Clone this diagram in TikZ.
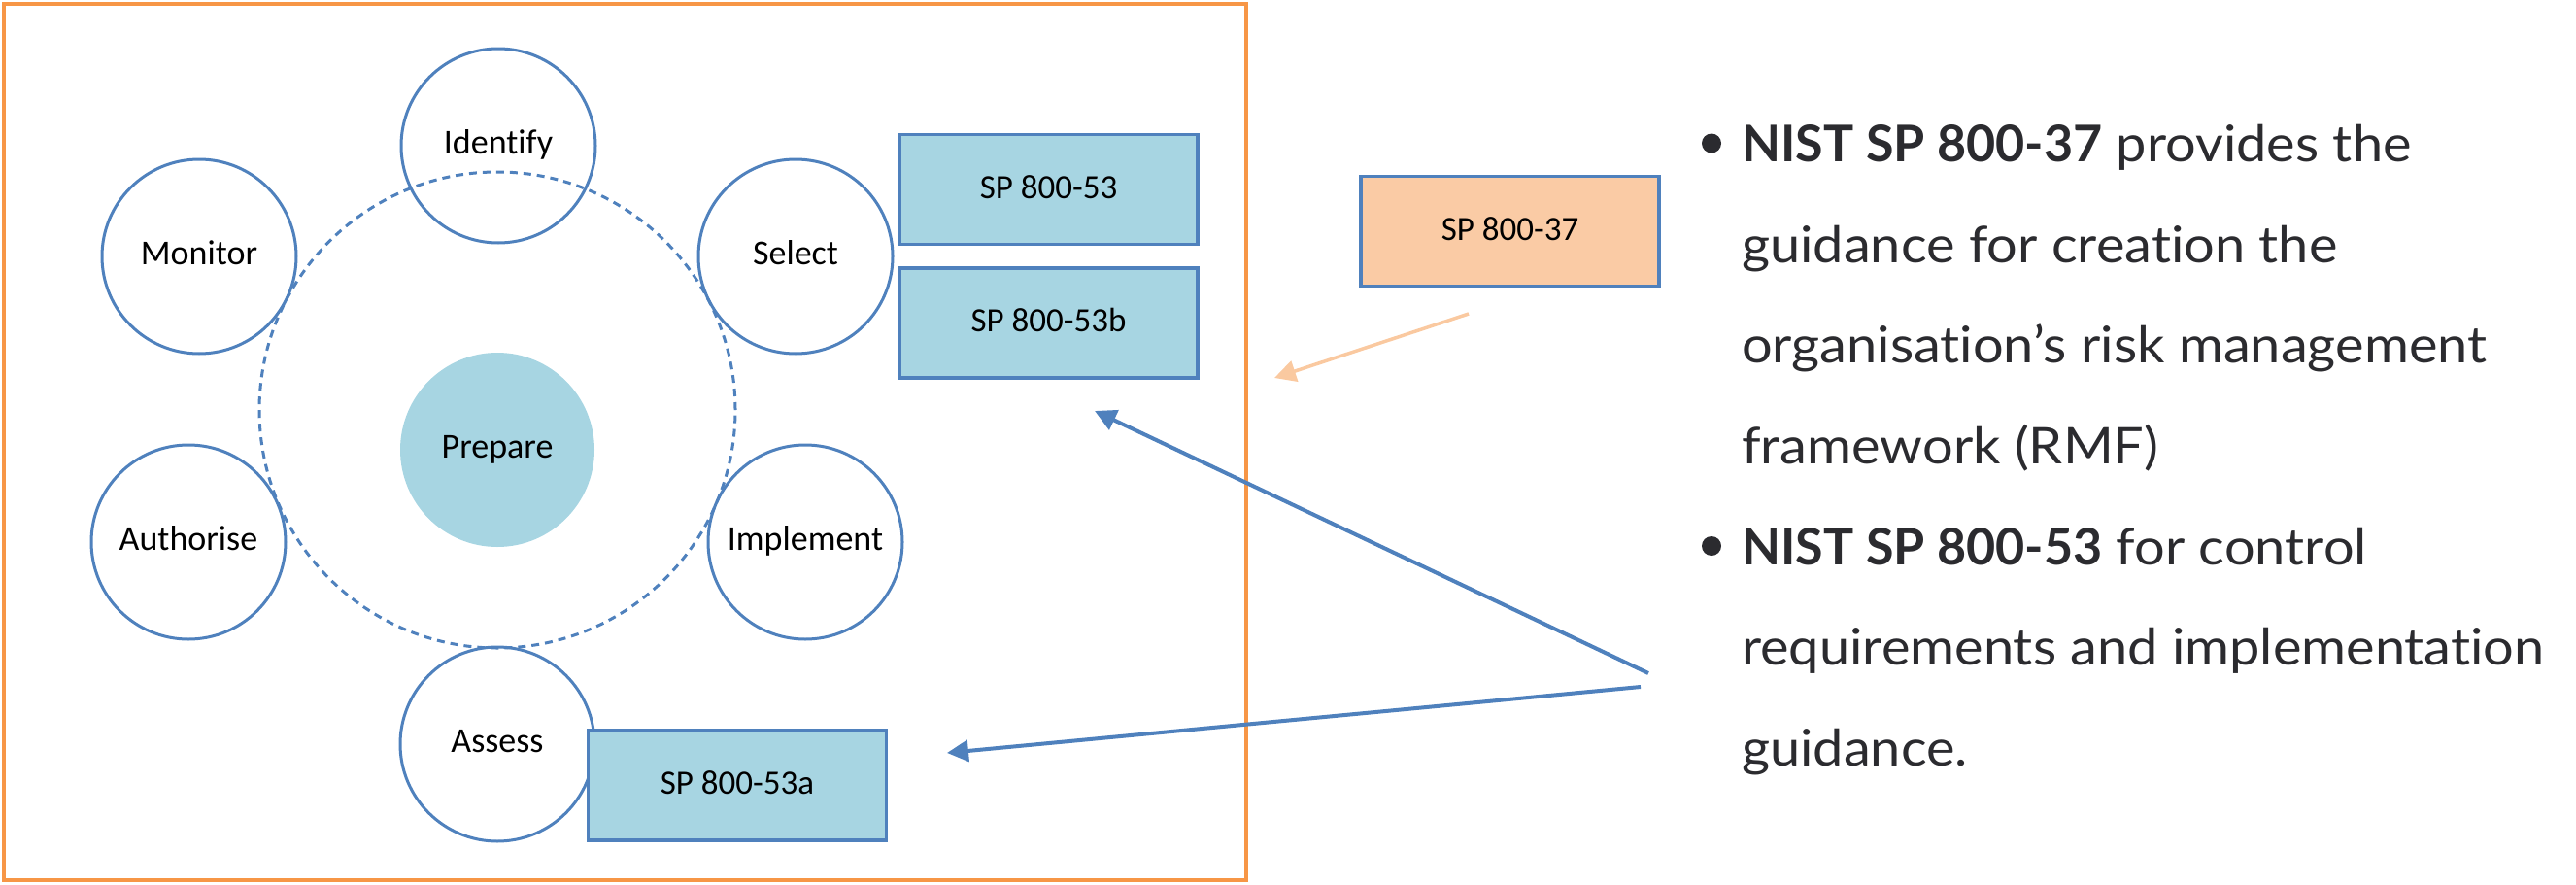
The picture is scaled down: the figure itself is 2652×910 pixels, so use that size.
\documentclass[tikz,border=0pt]{standalone}
\usepackage{fontspec}
\setmainfont{Carlito}[Ligatures={NoCommon,NoContextual},Contextuals={NoAlternate}]
\newfontfamily\rreg[FakeStretch=1.075,Ligatures={NoCommon,NoContextual},Contextuals={NoAlternate}]{Lato}
\newfontfamily\rbold[Ligatures={NoCommon,NoContextual},Contextuals={NoAlternate}]{Lato}
\usetikzlibrary{arrows.meta}
\definecolor{cblue}{HTML}{4F81BD}
\definecolor{cfill}{HTML}{A7D5E2}
\definecolor{cpeach}{HTML}{FACBA5}
\definecolor{corange}{HTML}{F79646}
\definecolor{carrow}{HTML}{FAC9A0}
\definecolor{ctext}{HTML}{2B2B2F}
\newcommand{\bnist}[1]{{\rbold\bfseries #1}}
\begin{document}
\begin{tikzpicture}[x=1pt,y=-1pt,
  phase/.style={circle,draw=cblue,line width=3pt,minimum size=200pt,inner sep=0pt,text height=30pt,text depth=14pt,font=\fontsize{36}{43}\selectfont},
  prep/.style={circle,fill=cfill,minimum size=200pt,inner sep=0pt,text height=30pt,text depth=14pt,font=\fontsize{36}{43}\selectfont},
  ring/.style={circle,draw=cblue,line width=3pt,dash pattern=on 8pt off 6pt,minimum size=490pt,inner sep=0pt},
  doc/.style={rectangle,draw=cblue,fill=cfill,line width=3.5pt,minimum width=307pt,minimum height=113pt,inner sep=0pt,text height=30pt,text depth=12pt,font=\fontsize{35}{42}\selectfont},
  pdoc/.style={doc,fill=cpeach},
  blink/.style={draw=cblue,line width=4pt,-{Triangle[length=22pt,width=22pt]}},
  olink/.style={draw=carrow,line width=3.5pt,-{Triangle[length=22pt,width=22pt]}},
  rline/.style={anchor=base west,inner sep=0pt,text=ctext,font=\rreg\fontsize{52}{60}\selectfont},
  dot/.style={circle,fill=ctext,minimum size=20pt,inner sep=0pt}]
\useasboundingbox (0,0) rectangle (2652,910);
% frame
\draw[corange,line width=4.5pt] (4,4) rectangle (1283,906);
% ring and phases
\node[ring] (ring) at (512,422) {};
\node[prep] (prepare) at (512,463) {Prepare};
\node[phase] (identify) at (513,150) {Identify};
\node[phase] (monitor) at (205,264) {Monitor};
\node[phase] (select) at (819,264) {Select};
\node[phase] (authorise) at (194,558) {Authorise};
\node[phase] (implement) at (829,558) {Implement};
\node[phase] (assess) at (512,766) {Assess};
% documents
\node[doc] (sp53) at (1079.5,195) {SP 800-53};
\node[doc] (sp53b) at (1079.5,332.5) {SP 800-53b};
\node[doc] (sp53a) at (759,808.5) {SP 800-53a};
\node[pdoc] (sp37) at (1554.5,238) {SP 800-37};
% arrows
\coordinate (s1) at (1697,693);
\coordinate (t1) at (1127,423);
\coordinate (s2) at (1689,707);
\coordinate (t2) at (975,775);
\coordinate (s3) at (1512,323);
\coordinate (t3) at (1312,389);
\draw[blink] (s1) -- (t1);
\draw[blink] (s2) -- (t2);
\draw[olink] (s3) -- (t3);
% text
\node[dot] (b1) at (1762,147.5) {};
\node[dot] (b2) at (1762,562) {};
\node[rline] (l1) at (1793,166.7) {\bnist{NIST SP 800-37} provides the};
\node[rline] (l2) at (1793,270.3) {guidance for creation the};
\node[rline] (l3) at (1793,373.9) {organisation’s risk management};
\node[rline] (l4) at (1793,477.5) {framework (RMF)};
\node[rline] (l5) at (1793,581.1) {\bnist{NIST SP 800-53} for control};
\node[rline] (l6) at (1793,684.7) {requirements and implementation};
\node[rline] (l7) at (1793,788.3) {guidance.};
\end{tikzpicture}
\end{document}
